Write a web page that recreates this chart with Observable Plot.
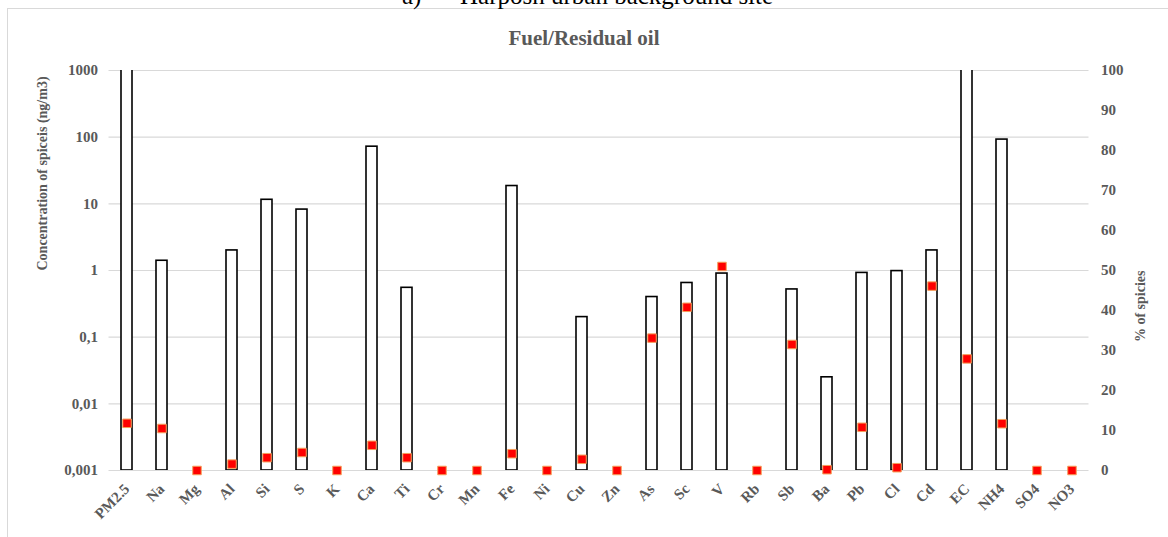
<!DOCTYPE html>
<html>
<head>
<meta charset="utf-8">
<script src="https://cdn.jsdelivr.net/npm/d3@7"></script>
<script src="https://cdn.jsdelivr.net/npm/@observablehq/plot@0.6"></script>
<style>
  html, body { margin: 0; padding: 0; background: #fff; overflow: hidden; }
  #wrap { position: relative; width: 1168px; height: 537px; overflow: hidden; }
  #frame { position: absolute; left: 7px; top: 8px; width: 1200px; height: 600px; border: 1px solid #d9d9d9; box-sizing: border-box; }
  .sup { position: absolute; top: -17px; font: 25px "Liberation Serif", serif; color: #000; white-space: pre; line-height: 25px; }
  #title { position: absolute; left: 0; width: 1168px; top: 26px; text-align: center; font: bold 21px "Liberation Serif", serif; color: #595959; line-height: 24px; }
  #chart { position: absolute; left: 0; top: 0; }
</style>
</head>
<body>
<div id="wrap">
  <div id="frame"></div>
  <div class="sup" style="left:402px">a)</div>
  <div class="sup" style="left:460px">Harposh urban background site</div>
  <div id="title">Fuel/Residual oil</div>
  <div id="chart"></div>
</div>
<script>
const species = ["PM2.5","Na","Mg","Al","Si","S","K","Ca","Ti","Cr","Mn","Fe","Ni","Cu","Zn","As","Sc","V","Rb","Sb","Ba","Pb","Cl","Cd","EC","NH4","SO4","NO3"];
const concentration = [2000, 1.4, 0, 2.0, 11.5, 8.2, 0, 72, 0.55, 0, 0, 18.5, 0, 0.2, 0, 0.4, 0.65, 0.9, 0, 0.52, 0.025, 0.92, 0.98, 2.0, 2000, 92, 0, 0];
const percent = [11.8, 10.5, 0, 1.6, 3.2, 4.5, 0, 6.3, 3.2, 0, 0, 4.2, 0, 2.8, 0, 33.1, 40.8, 51, 0, 31.5, 0.2, 10.8, 0.7, 46.1, 27.9, 11.7, 0, 0];
const leftTicks = [0.001, 0.01, 0.1, 1, 10, 100, 1000];
const rightTicks = [0, 10, 20, 30, 40, 50, 60, 70, 80, 90, 100];
const leftTitle = "Concentration of spiceis (ng/m3)";
const rightTitle = "% of spicies";

// map percent (0..100) onto the log concentration scale (0.001..1000)
const pctToY = p => Math.pow(10, p / 100 * 6 - 3);

const bars = species.map((s, i) => ({species: s, value: concentration[i]})).filter(d => d.value > 0);
const pts = species.map((s, i) => ({species: s, pct: percent[i], y: pctToY(percent[i])}));
const rightAxis = rightTicks.map(t => ({label: String(t), y: pctToY(t)}));

const gray = "#595959";
const fmtLeft = d => String(d).replace(".", ",");

const chart = Plot.plot({
  width: 1168,
  height: 537,
  marginTop: 70,
  marginBottom: 67,
  marginLeft: 108.5,
  marginRight: 79.5,
  style: {fontFamily: "'Liberation Serif', serif", fontSize: "15px", fontWeight: "bold", color: gray, background: "transparent"},
  x: {domain: species, paddingInner: 0.69, paddingOuter: 0.345},
  y: {type: "log", domain: [0.001, 1000]},
  marks: [
    Plot.gridY(leftTicks, {stroke: "#d9d9d9", strokeOpacity: 1, strokeWidth: 1.2}),
    Plot.barY(bars, {x: "species", y1: 0.001, y2: "value", fill: "white", stroke: "black", strokeWidth: 1.6, clip: true}),
    Plot.dot(pts, {x: "species", y: "y", symbol: "square", r: 4.8, fill: "#ff0000", stroke: "#f5a05a", strokeWidth: 1}),
    Plot.axisY(leftTicks, {anchor: "left", tickSize: 0, tickPadding: 11, tickFormat: fmtLeft, label: null, fill: gray, fontSize: 15}),
    Plot.text(rightAxis, {y: "y", text: "label", frameAnchor: "right", dx: 12, textAnchor: "start", fill: gray, fontSize: 15, fontWeight: "bold"}),
    Plot.axisX({tickSize: 0, tickRotate: -45, tickPadding: 16, label: null, fill: gray, fontSize: 15}),
    Plot.text([leftTitle], {frameAnchor: "left", dx: -66, rotate: -90, fill: gray, fontSize: 14, fontWeight: "bold"}),
    Plot.text([rightTitle], {frameAnchor: "right", dx: 52, rotate: -90, fill: gray, fontSize: 14, fontWeight: "bold"})
  ]
});
document.getElementById("chart").appendChild(chart);
</script>
</body>
</html>
